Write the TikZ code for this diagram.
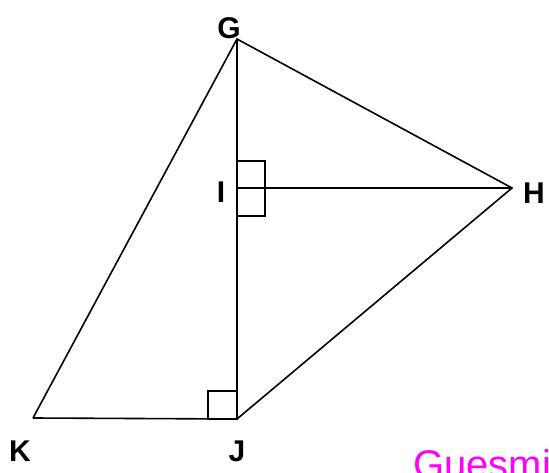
\documentclass[tikz,border=0pt]{standalone}
\usepackage{fontspec}
\setmainfont{Liberation Sans}
\definecolor{sigmagenta}{RGB}{255,0,255}

\tikzset{
    lbl/.style={font=\fontsize{30}{31}\selectfont\bfseries, inner sep=0pt},
    seg/.style={line width=1.6pt, line join=miter}
}

\begin{document}
\begin{tikzpicture}[x=1pt, y=-1pt]
    \useasboundingbox (0,0) rectangle (549,473);

    % Points
    \coordinate (G) at (237,39);
    \coordinate (H) at (512,188);
    \coordinate (I) at (237,188);
    \coordinate (J) at (237,419);
    \coordinate (K) at (33,418);

    % Sides and heights
    \draw[seg] (K) -- (G) -- (H) -- (J) -- (K);
    \draw[seg] (G) -- (J);
    \draw[seg] (I) -- (H);

    % Right angles
    \draw[seg] (237,161) rectangle (265,216);
    \draw[seg] (208,391) rectangle (J);

    % Labels
    \node[lbl] (labG) at (229,28) {G};
    \node[lbl] (labH) at (534,193) {H};
    \node[lbl] (labI) at (221,192) {I};
    \node[lbl] (labJ) at (237,451) {J};
    \node[lbl] (labK) at (20,451) {K};

    % Signature
    \node[anchor=base west, inner sep=0pt, text=sigmagenta,
          font=\fontsize{40}{42}\selectfont] (sig) at (413,478) {Guesmi};
\end{tikzpicture}
\end{document}
